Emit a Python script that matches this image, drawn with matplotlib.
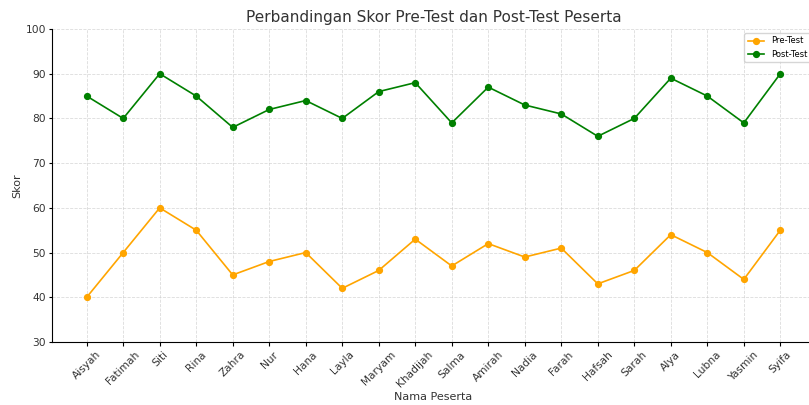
import matplotlib
matplotlib.use('agg')
import matplotlib.pyplot as plt

names = ['Aisyah', 'Fatimah', 'Siti', 'Rina', 'Zahra', 'Nur', 'Hana', 'Layla', 'Maryam', 'Khadijah',
         'Salma', 'Amirah', 'Nadia', 'Farah', 'Hafsah', 'Sarah', 'Alya', 'Lubna', 'Yasmin', 'Syifa']
pre_test = [40, 50, 60, 55, 45, 48, 50, 42, 46, 53, 47, 52, 49, 51, 43, 46, 54, 50, 44, 55]
post_test = [85, 80, 90, 85, 78, 82, 84, 80, 86, 88, 79, 87, 83, 81, 76, 80, 89, 85, 79, 90]

fig = plt.figure(figsize=(8.09, 4.05), dpi=100)
ax = fig.add_axes([0.0643, 0.1556, 0.9431, 0.7728])

ax.plot(names, pre_test, marker='o', color='orange', label='Pre-Test', linewidth=1.2, markersize=4.2)
ax.plot(names, post_test, marker='o', color='green', label='Post-Test', linewidth=1.2, markersize=4.2)

ax.set_title('Perbandingan Skor Pre-Test dan Post-Test Peserta', fontsize=11, color='#333333', pad=5)
ax.set_xlabel('Nama Peserta', fontsize=8, color='#333333', labelpad=2)
ax.set_ylabel('Skor', fontsize=8, color='#333333', labelpad=2)
ax.set_ylim(30, 100)
plt.xticks(rotation=45, fontsize=7.7, color='#333333')
plt.yticks(fontsize=7.7, color='#333333')
ax.tick_params(axis='x', length=2.7, pad=2.7, width=0.8)
ax.tick_params(axis='y', length=2.2, pad=2.2, width=0.8)
ax.grid(True, linestyle='--', color='#cccccc', linewidth=0.6, alpha=0.7)
ax.spines['top'].set_visible(False)
ax.spines['right'].set_visible(False)
ax.legend(loc='upper right', fontsize=6)

fig.savefig('out.png', dpi=100)
